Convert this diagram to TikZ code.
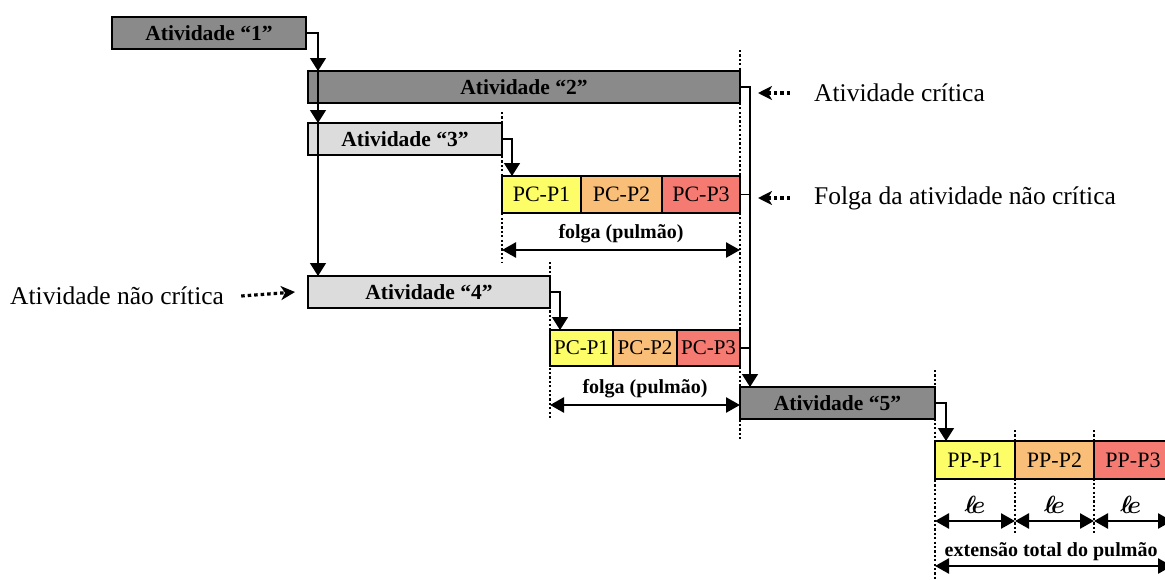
\documentclass[tikz,border=0pt]{standalone}
\usepackage{fontspec}
\setmainfont{Liberation Serif}
\usetikzlibrary{positioning,arrows.meta}
\definecolor{actdark}{RGB}{138,138,138}
\definecolor{actlight}{RGB}{220,220,220}
\definecolor{pyellow}{RGB}{253,253,104}
\definecolor{porange}{RGB}{249,190,120}
\definecolor{pred}{RGB}{244,122,114}
\tikzset{
act/.style={
  draw,
  line width=2.6pt,
  anchor=north west,
  minimum height=32,
  inner sep=0pt,
  outer sep=0pt,
  font=\bfseries\fontsize{21.5}{24}\selectfont,
},
buf/.style={
  draw,
  line width=1.5pt,
  anchor=north west,
  inner sep=0pt,
  outer sep=0pt,
  font=\fontsize{22}{24}\selectfont,
},
flow/.style={
  -{Triangle[width=16pt,length=13pt]},
  line width=1.5pt,
},
link/.style={line width=1.5pt},
guide/.style={
  line width=2.4pt,
  dash pattern=on 2.2pt off 2.2pt,
},
dim/.style={
  {Triangle[width=15pt,length=14pt]}-{Triangle[width=15pt,length=14pt]},
  line width=2.6pt,
},
pil/.style={
  -{Stealth[width=14pt,length=14pt,inset=4pt]},
  line width=3.2pt,
  dash pattern=on 3.5pt off 3pt,
},
note/.style={font=\fontsize{25.5}{28}\selectfont, inner sep=2pt},
lab/.style={font=\bfseries\fontsize{20}{22}\selectfont, inner sep=2pt},
ele/.style={font=\fontsize{24}{26}\selectfont\boldmath, inner sep=2pt},
}
\begin{document}
\begin{tikzpicture}[x=1pt,y=-1pt]
\useasboundingbox (0,0) rectangle (1165,579);

% atividades
\node[act,fill=actdark,minimum width=194] (a1) at (112,17) {Atividade “1”};
\node[act,fill=actdark,minimum width=432] (a2) at (308,71) {Atividade “2”};
\node[act,fill=actlight,minimum width=194] (a3) at (308,123) {Atividade “3”};
\node[act,fill=actlight,minimum width=242] (a4) at (308,276) {Atividade “4”};
\node[act,fill=actdark,minimum width=195] (a5) at (740,387) {Atividade “5”};

% pulmoes de convergencia
\node[buf,fill=pyellow,minimum width=79,minimum height=37] (pa1) at (502,176) {PC-P1};
\node[buf,fill=porange,minimum width=81,minimum height=37,right=0pt of pa1] (pa2) {PC-P2};
\node[buf,fill=pred,minimum width=78,minimum height=37,right=0pt of pa2] (pa3) {PC-P3};

\node[buf,fill=pyellow,minimum width=63,minimum height=36,font=\fontsize{21}{24}\selectfont] (pb1) at (550,330) {PC-P1};
\node[buf,fill=porange,minimum width=64,minimum height=36,font=\fontsize{21}{24}\selectfont,right=0pt of pb1] (pb2) {PC-P2};
\node[buf,fill=pred,minimum width=63,minimum height=36,font=\fontsize{21}{24}\selectfont,right=0pt of pb2] (pb3) {PC-P3};

% pulmao do projeto
\node[buf,fill=pyellow,minimum width=80,minimum height=38] (pp1) at (935,441) {PP-P1};
\node[buf,fill=porange,minimum width=79,minimum height=38,right=0pt of pp1] (pp2) {PP-P2};
\node[buf,fill=pred,minimum width=78,minimum height=38,right=0pt of pp2] (pp3) {PP-P3};

% linhas guia
\draw[guide] ([yshift=11pt]a3.north east) -- ([yshift=-49pt]pa1.south west);
\draw[guide] ([yshift=21pt]a2.north east) -- ([yshift=-21pt]a5.south west);
\draw[guide] ([yshift=14pt]a4.north east) -- ([yshift=-54pt]pb1.south west);
\draw[guide] ([yshift=17pt]a5.north east) -- ([yshift=-100pt]pp1.south west);
\draw[guide] ([yshift=11pt]pp1.north east) -- ([yshift=-56pt]pp1.south east);
\draw[guide] ([yshift=11pt]pp2.north east) -- ([yshift=-56pt]pp2.south east);

% ligacoes
\draw[flow] (a1.east) -| ([xshift=10pt]a2.north west);
\draw[flow] ([xshift=10pt]a2.north west) -- ([xshift=10pt]a3.north west);
\draw[flow] ([xshift=10pt]a3.north west) -- ([xshift=10pt]a4.north west);
\draw[flow] (a3.east) -| ([xshift=10pt]pa1.north west);
\draw[flow] (a4.east) -| ([xshift=10pt]pb1.north west);
\draw[flow] (a2.east) -| ([xshift=10pt]a5.north west);
\draw[flow] (a5.east) -| ([xshift=11pt]pp1.north west);
\draw[link] (pa3.east) -- ++(10,0);
\draw[link] (pb3.east) -- ++(10,0);

% folgas
\draw[dim] ([yshift=-37pt]pa1.south west) -- ([yshift=-37pt]pa3.south east)
  node[midway,lab,above=4pt] (fa) {folga (pulmão)};
\draw[dim] ([yshift=-39pt]pb1.south west) -- ([yshift=-39pt]pb3.south east)
  node[midway,lab,above=4pt] (fb) {folga (pulmão)};
\draw[dim] ([yshift=-42pt]pp1.south west) -- ([yshift=-42pt]pp1.south east)
  node[midway,ele,above=4pt] (e1) {$\ell\!e$};
\draw[dim] ([yshift=-42pt]pp2.south west) -- ([yshift=-42pt]pp2.south east)
  node[midway,ele,above=4pt] (e2) {$\ell\!e$};
\draw[dim] ([yshift=-42pt]pp3.south west) -- ([yshift=-42pt]pp3.south east)
  node[pos=0.47,ele,above=4pt] (e3) {$\ell\!e$};
\draw[dim] ([yshift=-87pt]pp1.south west) -- ([yshift=-87pt]pp3.south east)
  node[pos=0.49,lab,above=2pt] (ext) {extensão total do pulmão};

% legendas
\node[note,anchor=west] (crit) at (812,93) {Atividade crítica};
\node[note,anchor=west] (folga) at (812,198) {Folga da atividade não crítica};
\node[note,anchor=west] (ncrit) at (8,296) {Atividade não crítica};
\draw[pil] ([xshift=-22pt]crit.west) -- ++(-32,0);
\draw[pil] ([xshift=-22pt]folga.west) -- ++(-32,0);
\draw[pil] ([xshift=15pt]ncrit.east) -- ([xshift=-13pt]a4.west);
\end{tikzpicture}
\end{document}
